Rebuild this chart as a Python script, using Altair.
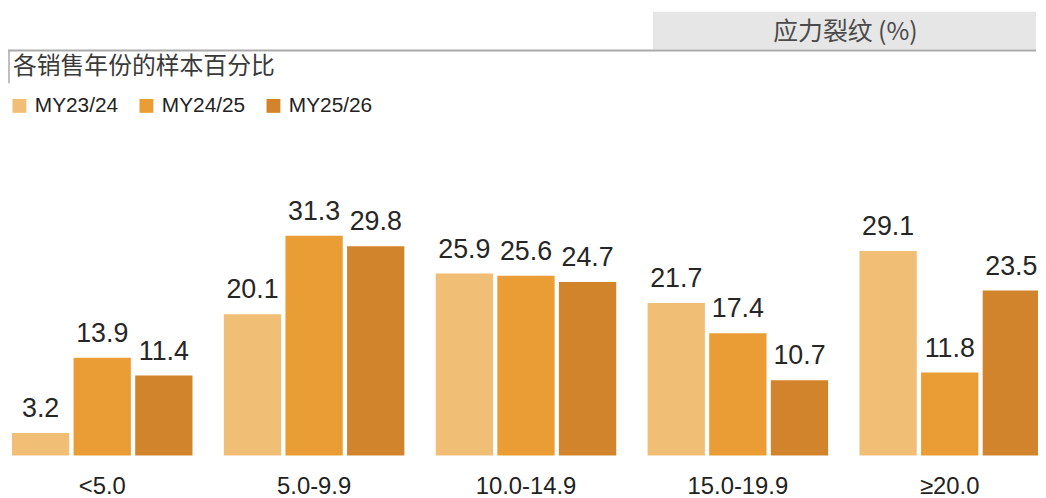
import altair as alt
import pandas as pd

categories = ["<5.0", "5.0-9.9", "10.0-14.9", "15.0-19.9", "≥20.0"]
seasons = ["MY23/24", "MY24/25", "MY25/26"]
my2324 = [3.2, 20.1, 25.9, 21.7, 29.1]
my2425 = [13.9, 31.3, 25.6, 17.4, 11.8]
my2526 = [11.4, 29.8, 24.7, 10.7, 23.5]
colors = ["#F1BE76", "#EA9D34", "#D2842C"]
title_text = "应力裂纹 (%)"
subtitle_text = "各销售年份的样本百分比"

rows = []
for s, vals in zip(seasons, [my2324, my2425, my2526]):
    for c, v in zip(categories, vals):
        rows.append({"category": c, "season": s, "value": v})
df = pd.DataFrame(rows)
one = pd.DataFrame({"title": [title_text], "sub": [subtitle_text]})

x = alt.X(
    "category:N",
    sort=categories,
    scale=alt.Scale(range=[4, 1040], paddingInner=0.148, paddingOuter=0),
    axis=alt.Axis(
        title=None, labelAngle=0, domain=False, ticks=False, tickSize=0,
        labelPadding=19, labelFontSize=24, labelFont="Liberation Sans",
        labelColor="#222222", grid=False,
    ),
)
xo = alt.XOffset("season:N", sort=seasons, scale=alt.Scale(paddingInner=0.07, paddingOuter=0))
y = alt.Y("value:Q", scale=alt.Scale(domain=[0, 63.45]), axis=None)
color = alt.Color(
    "season:N",
    sort=seasons,
    scale=alt.Scale(domain=seasons, range=colors),
    legend=alt.Legend(
        orient="none", legendX=1, legendY=86, direction="horizontal", title=None,
        symbolType="square", symbolSize=196, symbolStrokeWidth=0, symbolOpacity=1,
        labelFontSize=21, labelFont="Liberation Sans", labelColor="#222222",
        labelOffset=5, columnPadding=17, padding=0,
    ),
)

bars = alt.Chart(df).mark_bar().encode(x=x, xOffset=xo, y=y, color=color)
labels = alt.Chart(df).mark_text(
    baseline="alphabetic", dy=-16, fontSize=27,
    font="Liberation Sans", color="#262626",
).encode(x=x, xOffset=xo, y=y, text=alt.Text("value:Q", format=".1f"))

header_rect = alt.Chart(one).mark_rect(color="#e6e6e6").encode(
    x=alt.value(650), x2=alt.value(1036), y=alt.value(2), y2=alt.value(40)
)
rule_h = alt.Chart(one).mark_rule(color="#aaaaaa", strokeWidth=2).encode(
    x=alt.value(0), x2=alt.value(1036), y=alt.value(41)
)
rule_v = alt.Chart(one).mark_rule(color="#aaaaaa", strokeWidth=1.5).encode(
    x=alt.value(1), y=alt.value(41), y2=alt.value(74)
)
title_txt = alt.Chart(one).mark_text(
    align="center", baseline="middle", fontSize=25, font="Noto Sans CJK SC", color="#4a4a4a"
).encode(text="title:N", x=alt.value(844), y=alt.value(22))
sub_txt = alt.Chart(one).mark_text(
    align="left", baseline="middle", fontSize=24, font="Noto Sans CJK SC", color="#3a3a3a"
).encode(text="sub:N", x=alt.value(5), y=alt.value(58))

chart = alt.layer(header_rect, rule_h, rule_v, title_txt, sub_txt, bars, labels).properties(
    width=1038, height=449,
    autosize=alt.AutoSizeParams(type="none"),
    padding={"left": 0, "top": 0, "right": 0, "bottom": 41},
    background="white",
).configure_view(stroke=None)

chart.save("out.html", embed_options={"renderer": "svg", "actions": False})
